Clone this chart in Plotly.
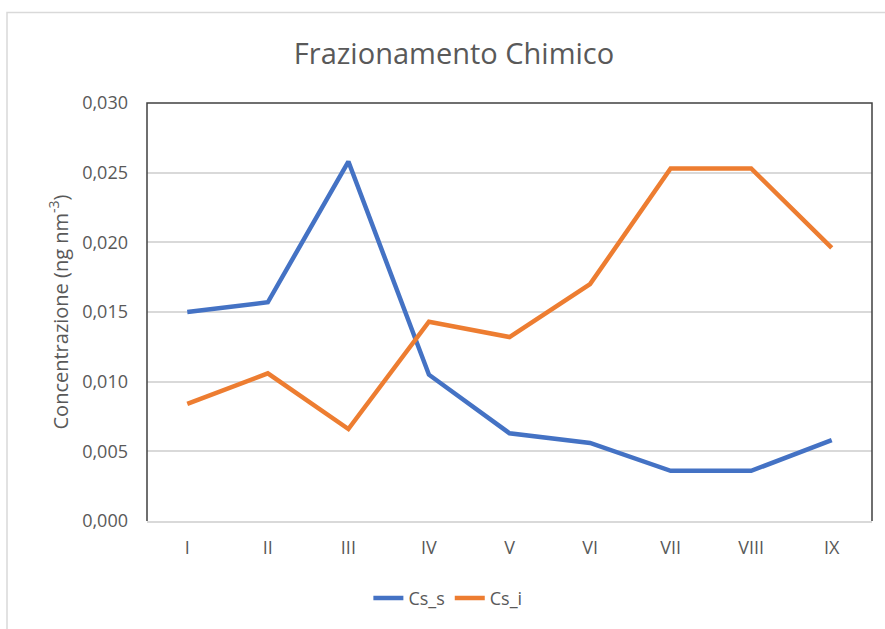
import plotly.graph_objects as go

# dati
fractions = ["I", "II", "III", "IV", "V", "VI", "VII", "VIII", "IX"]
cs_s = [0.0150, 0.0157, 0.0258, 0.0105, 0.0063, 0.0056, 0.0036, 0.0036, 0.0058]
cs_i = [0.0084, 0.0106, 0.0066, 0.0143, 0.0132, 0.0170, 0.0253, 0.0253, 0.0196]

FONT = "Open Sans"
GREY = "#595959"

fig = go.Figure()
fig.add_trace(go.Scatter(x=fractions, y=cs_s, name="Cs_s", mode="lines",
                         line=dict(color="#4472C4", width=4.5)))
fig.add_trace(go.Scatter(x=fractions, y=cs_i, name="Cs_i", mode="lines",
                         line=dict(color="#ED7D31", width=4.5)))

fig.update_layout(
    width=885, height=629,
    margin=dict(l=147, r=13, t=103, b=106),
    paper_bgcolor="white", plot_bgcolor="white",
    separators=",.",
    font=dict(family=FONT, color=GREY, size=18),
    title=dict(text="Frazionamento Chimico", x=0.513, xanchor="center",
               y=0.915, yanchor="middle",
               font=dict(family=FONT, size=29, color=GREY)),
    showlegend=True,
    legend=dict(orientation="h", x=0.415, xanchor="center", y=-0.185, yanchor="middle",
                font=dict(size=18, color=GREY)),
    xaxis=dict(range=[-0.5, 8.5], showgrid=False, showline=True,
               linecolor="#d9d9d9", linewidth=1.5, ticks="",
               ticklabelstandoff=10, tickfont=dict(size=18, color=GREY)),
    yaxis=dict(range=[0, 0.030], dtick=0.005, tickformat=".3f",
               showgrid=True, gridcolor="#d9d9d9", gridwidth=1.5,
               zeroline=False, showline=False, ticks="", automargin=False,
               ticklabelstandoff=18, tickfont=dict(size=18, color=GREY),
               title=dict(text="Concentrazione (ng nm<sup>-3</sup>)", standoff=8,
                          font=dict(size=20, color=GREY))),
    shapes=[
        # cornice del grafico (tagliata a destra e in basso)
        dict(type="rect", xref="paper", yref="paper",
             x0=-0.1931, x1=1.03, y0=-0.28, y1=1.2167,
             line=dict(color="#d9d9d9", width=1.5), layer="below"),
        # bordo scuro dell'area del tracciato
        dict(type="path", xref="paper", yref="paper",
             path="M 0 0 L 0 1 L 1 1 L 1 0",
             line=dict(color="#404040", width=1.5), layer="above"),
    ],
)

fig.write_html(
    "out.html",
    config={"responsive": False, "displayModeBar": False},
    post_script="document.body.style.margin='0';document.body.style.overflow='hidden';",
)
